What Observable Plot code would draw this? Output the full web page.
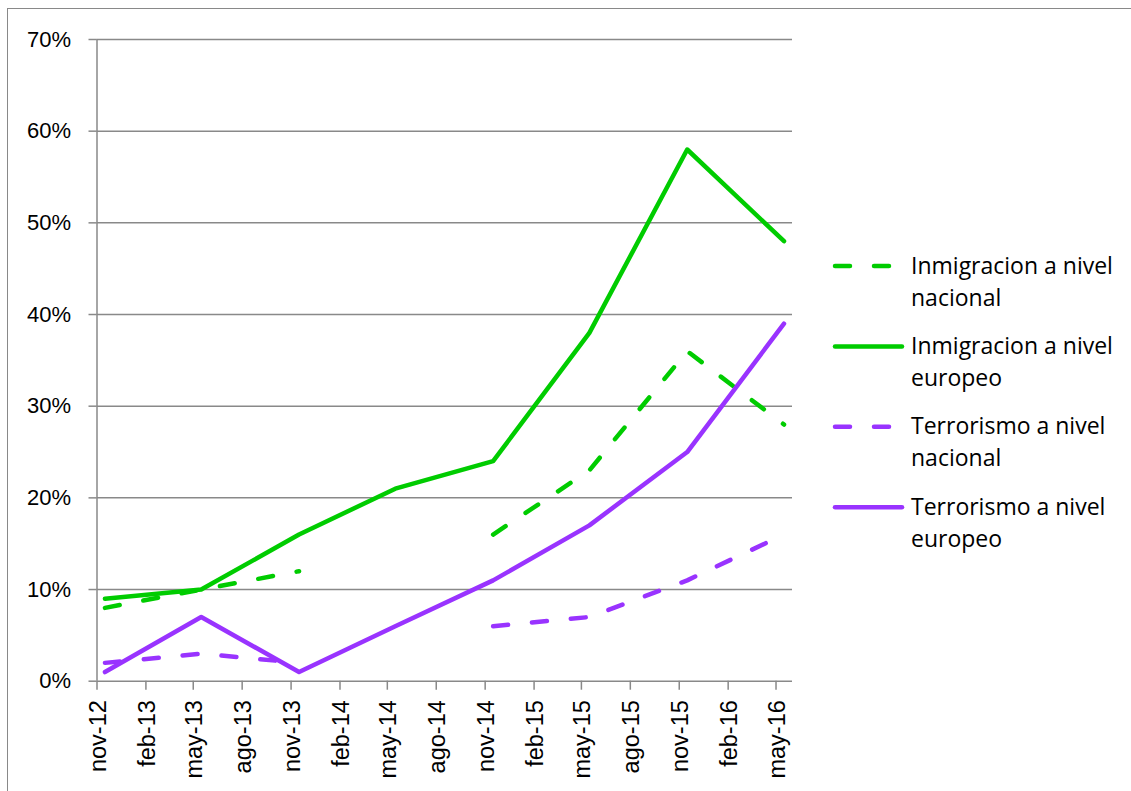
<!DOCTYPE html>
<html><head><meta charset="utf-8">
<script src="https://cdn.jsdelivr.net/npm/d3@7"></script>
<script src="https://cdn.jsdelivr.net/npm/@observablehq/plot@0.6"></script>
<style>
html,body{margin:0;padding:0;background:#fff;overflow:hidden;}
#wrap{position:relative;width:1131px;height:791px;overflow:hidden;background:#fff;}
#frame{position:absolute;left:7px;top:8px;width:1200px;height:1000px;border:1.5px solid #898989;box-sizing:border-box;}
#chart{position:absolute;left:0;top:0;}
#legend{position:absolute;left:0;top:0;}
</style></head><body>
<div id="wrap"><div id="frame"></div><div id="chart"></div><svg id="legend" width="1131" height="791"></svg></div>
<script>
// ---- data ----
const surveys = ["nov-12","may-13","nov-13","may-14","nov-14","may-15","nov-15","may-16"];
const inmigracionNacional = [0.08, 0.10, 0.12, null, 0.16, 0.23, 0.36, 0.28];
const inmigracionEuropeo  = [0.09, 0.10, 0.16, 0.21, 0.24, 0.38, 0.58, 0.48];
const terrorismoNacional  = [0.02, 0.03, 0.02, null, 0.06, 0.07, 0.11, 0.16];
const terrorismoEuropeo   = [0.01, 0.07, 0.01, 0.06, 0.11, 0.17, 0.25, 0.39];
const seriesNames = ["Inmigracion a nivel nacional","Inmigracion a nivel europeo","Terrorismo a nivel nacional","Terrorismo a nivel europeo"];
const seriesValues = [inmigracionNacional, inmigracionEuropeo, terrorismoNacional, terrorismoEuropeo];
const xTickLabels = ["nov-12","feb-13","may-13","ago-13","nov-13","feb-14","may-14","ago-14","nov-14","feb-15","may-15","ago-15","nov-15","feb-16","may-16"];
const yTicks = [0, 0.1, 0.2, 0.3, 0.4, 0.5, 0.6, 0.7];

// ---- style ----
const seriesColors = ["#00cc00","#00cc00","#9933ff","#9933ff"];
const seriesDashed = [true, false, true, false];
const gridColor = "#898989";
const dash = "15,24";

const meses = {ene:0,feb:1,mar:2,abr:3,may:4,jun:5,jul:6,ago:7,sep:8,oct:9,nov:10,dic:11};
function parseLabel(s, day) { const [m, y] = s.split("-"); return new Date(Date.UTC(2000 + (+y), meses[m], day)); }

const tickDates = xTickLabels.map(s => parseLabel(s, 1));
const xStart = tickDates[0];
const xEnd = d3.utcMonth.offset(tickDates[tickDates.length - 1], 1);

const rows = [];
seriesValues.forEach((vals, k) => vals.forEach((v, i) => rows.push({k, date: parseLabel(surveys[i], 16), value: v})));

const lineMarks = seriesNames.map((name, k) => Plot.line(rows.filter(r => r.k === k), {
  x: "date", y: "value", stroke: seriesColors[k], strokeWidth: 4.5,
  strokeLinecap: "round", strokeLinejoin: "round",
  strokeDasharray: seriesDashed[k] ? dash : undefined
}));

const plot = Plot.plot({
  width: 800, height: 791,
  marginLeft: 96.5, marginRight: 8, marginTop: 39, marginBottom: 110.3,
  style: {fontFamily: "'Liberation Sans', Arial, sans-serif", fontSize: "22px", color: "#000", background: "transparent", overflow: "visible"},
  x: {type: "utc", domain: [xStart, xEnd], axis: null, label: null},
  y: {domain: [0, 0.7], axis: null, label: null},
  marks: [
    Plot.ruleY(yTicks, {stroke: gridColor, strokeWidth: 1.5, strokeOpacity: 1}),
    Plot.axisY({ticks: yTicks, tickFormat: d3.format(".0%"), tickSize: 8, tickPadding: 18,
      stroke: gridColor, strokeWidth: 1.5, strokeOpacity: 1, fill: "#000", fontSize: 22, label: null}),
    Plot.ruleX([xStart], {y1: 0, y2: 0.7, stroke: gridColor, strokeWidth: 1.5}),
    Plot.axisX({ticks: tickDates, tickSize: 9, tickFormat: () => "", stroke: gridColor, strokeWidth: 1.5, strokeOpacity: 1, label: null}),
    Plot.text(tickDates, {x: d => d, text: (d, i) => xTickLabels[i], frameAnchor: "bottom",
      rotate: -90, textAnchor: "end", dx: 9, dy: 19, fontSize: 23.5, fill: "#000"}),
    ...lineMarks
  ]
});
document.getElementById("chart").appendChild(plot);

// ---- legend ----
const leg = d3.select("#legend");
seriesNames.forEach((name, k) => {
  const cy = 266 + k * 80.4;
  leg.append("line").attr("x1", 835).attr("x2", 902).attr("y1", cy).attr("y2", cy)
    .attr("stroke", seriesColors[k]).attr("stroke-width", 4.5).attr("stroke-linecap", "round")
    .attr("stroke-dasharray", seriesDashed[k] ? dash : null);
  const parts = name.match(/^(.*) (\S+)$/);
  const t = leg.append("text").attr("x", 911).attr("y", cy + 7.5)
    .attr("font-family", "'Open Sans', sans-serif").attr("font-size", 23).attr("fill", "#000");
  t.append("tspan").attr("x", 911).attr("dy", 0).text(parts[1]);
  t.append("tspan").attr("x", 911).attr("dy", 32).text(parts[2]);
});
</script>
</body></html>
